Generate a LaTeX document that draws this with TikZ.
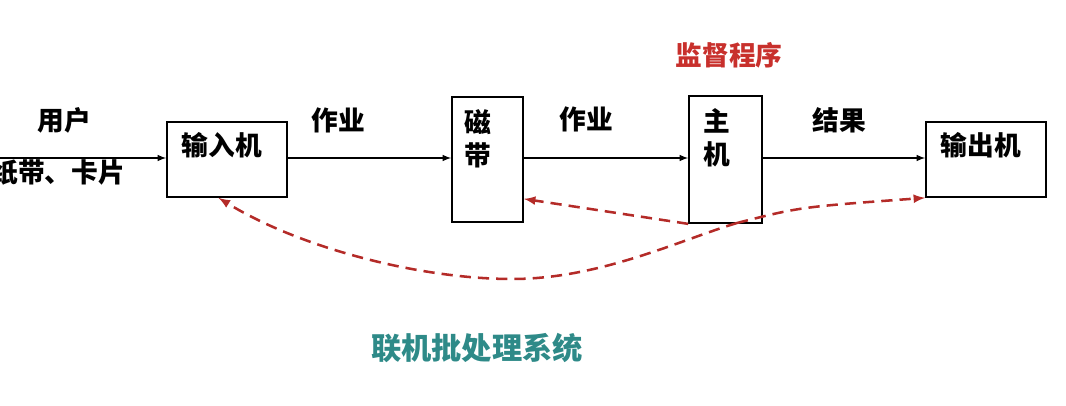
\documentclass[tikz,border=0pt]{standalone}
\usepackage{fontspec}
\newfontfamily\cjk{Noto Sans CJK SC}
\usetikzlibrary{shapes,arrows}
\definecolor{monred}{RGB}{200,48,44}
\definecolor{sysgreen}{RGB}{46,138,136}

\begin{document}
\begin{tikzpicture}[x=0.025cm,y=-0.025cm,font=\cjk\bfseries\fontsize{19}{23.5}\selectfont,>=latex]
\tikzset{box/.style={draw,line width=1.2pt,inner sep=0pt},
  ctrl/.style={->,dash pattern=on 8pt off 5pt,line width=1.8pt,color=monred!90!black}}
\useasboundingbox (0,0) rectangle (1066,406);
\node[box,minimum width=3cm,minimum height=1.875cm] (I) at (227,159.5) {};
\node[box,minimum width=1.775cm,minimum height=3.125cm] (T) at (487.5,159.5) {};
\node[box,minimum width=1.825cm,minimum height=3.175cm] (H) at (725.5,159.5) {};
\node[box,minimum width=3cm,minimum height=1.875cm] (O) at (986,159.5) {};
\node (tI) at (222,145) {输入机};
\node[align=center] (tT) at (478,138.5) {磁\\带};
\node[align=center] (tH) at (717,137.5) {主\\机};
\node (tO) at (981,145) {输出机};
\node (user) at (64,120) {用户};
\node[anchor=east] (media) at (130,172) {纸带、卡片};
\node (job1) at (338,120) {作业};
\node (job2) at (586,119) {作业};
\node (res) at (839,120) {结果};
\node[text=monred] (mon) at (729,55) {监督程序};
\node[text=sysgreen,font=\cjk\bfseries\fontsize{21.5}{24}\selectfont] (sys) at (477,348) {联机批处理系统};
\coordinate (src) at (0,158);
\coordinate (mb) at (737,223);
\draw[->,line width=1.1pt] (src) -- (I.west |- src);
\draw[->,line width=1.1pt] (I.east |- src) -- (T.west |- src);
\draw[->,line width=1.1pt] (T.east |- src) -- (H.west |- src);
\draw[->,line width=1.1pt] (H.east |- src) -- (O.west |- src);
\draw[ctrl] (H.south west) -- ([yshift=-28pt]T.east);
\draw[ctrl] (mb) .. controls (680,240) and (600,279) .. (512,279)
  .. controls (420,279) and (300,248) .. ([xshift=-6pt]I.south);
\draw[ctrl] (mb) .. controls (800,207) .. (O.south west);
\end{tikzpicture}
\end{document}
